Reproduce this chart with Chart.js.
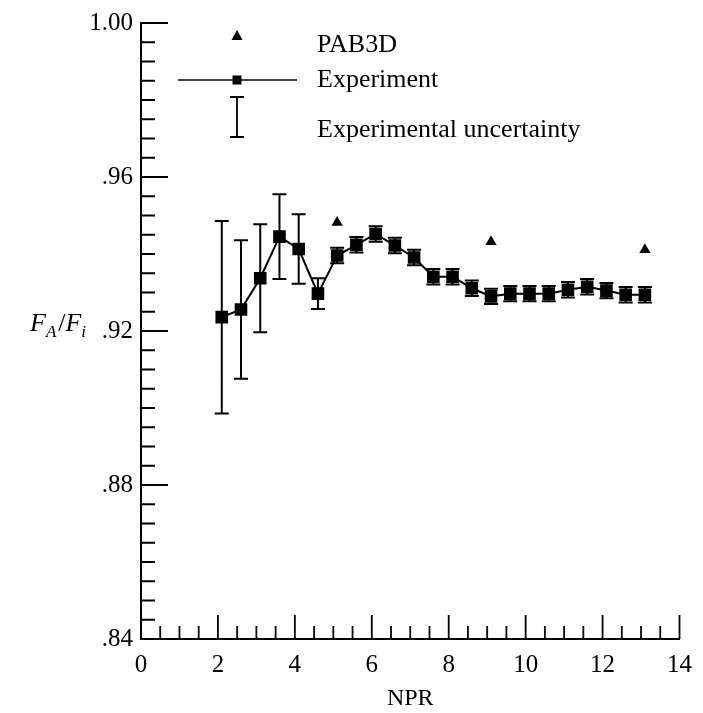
<!DOCTYPE html>
<html>
<head>
<meta charset="utf-8">
<script src="https://cdn.jsdelivr.net/npm/chart.js@4.4.0/dist/chart.umd.min.js"></script>
<style>
  html, body { margin: 0; padding: 0; background: #fff; }
</style>
</head>
<body>
<canvas id="chart" width="703" height="713"></canvas>
<script>
// values
const npr = [2.1, 2.6, 3.1, 3.6, 4.1, 4.6, 5.1, 5.6, 6.1, 6.6, 7.1, 7.6, 8.1, 8.6, 9.1, 9.6, 10.1, 10.6, 11.1, 11.6, 12.1, 12.6, 13.1];
const experiment = [.9236, .9256, .9337, .9445, .9413, .9297, .9396, .9424, .9452, .9422, .9391, .9341, .9341, .9311, .9290, .9297, .9297, .9297, .9307, .9315, .9305, .9294, .9294];
const uncertainty = [.025, .018, .014, .011, .009, .004, .002, .002, .002, .002, .002, .002, .002, .002, .002, .002, .002, .002, .002, .002, .002, .002, .002];
const pabNpr = [5.1, 9.1, 13.1];
const pab3d = [.9482, .9432, .9411];

const SERIF = "'Liberation Serif', 'Times New Roman', serif";

// error bars under the markers
const errorBars = {
  id: 'errorBars',
  beforeDatasetsDraw(chart) {
    const { ctx, scales: { x, y } } = chart;
    ctx.save();
    ctx.strokeStyle = '#000';
    ctx.lineWidth = 2;
    ctx.beginPath();
    npr.forEach((n, i) => {
      const px = x.getPixelForValue(n);
      const top = y.getPixelForValue(experiment[i] + uncertainty[i]);
      const bot = y.getPixelForValue(experiment[i] - uncertainty[i]);
      ctx.moveTo(px, top); ctx.lineTo(px, bot);
      ctx.moveTo(px - 7, top); ctx.lineTo(px + 7, top);
      ctx.moveTo(px - 7, bot); ctx.lineTo(px + 7, bot);
    });
    ctx.stroke();
    ctx.restore();
  }
};

// ticks pointing into the plot, plus legend and y title
const decorations = {
  id: 'decorations',
  afterDraw(chart) {
    const { ctx, chartArea: a, scales: { x, y } } = chart;
    ctx.save();
    ctx.strokeStyle = '#000';
    ctx.lineWidth = 1.8;
    ctx.beginPath();
    for (let k = 0; k <= 28; k++) {
      const px = x.getPixelForValue(k * 0.5);
      const len = k % 4 === 0 ? 24 : 13;
      ctx.moveTo(px, a.bottom); ctx.lineTo(px, a.bottom - len);
    }
    for (let k = 0; k <= 32; k++) {
      const py = y.getPixelForValue(0.84 + k * 0.005);
      const len = k % 8 === 0 ? 27 : 14;
      ctx.moveTo(a.left, py); ctx.lineTo(a.left + len, py);
    }
    ctx.stroke();

    // legend
    const ix = 237, tx = 317;
    ctx.fillStyle = '#000';
    ctx.beginPath();
    ctx.moveTo(ix, 30); ctx.lineTo(ix + 5.5, 40); ctx.lineTo(ix - 5.5, 40); ctx.closePath();
    ctx.fill();
    ctx.lineWidth = 1.5;
    ctx.beginPath();
    ctx.moveTo(178, 80); ctx.lineTo(297, 80);
    ctx.stroke();
    ctx.fillRect(ix - 4.5, 80 - 4.5, 9, 9);
    ctx.lineWidth = 1.8;
    ctx.beginPath();
    ctx.moveTo(ix, 97); ctx.lineTo(ix, 137);
    ctx.moveTo(ix - 7, 97); ctx.lineTo(ix + 7, 97);
    ctx.moveTo(ix - 7, 137); ctx.lineTo(ix + 7, 137);
    ctx.stroke();
    ctx.font = '26px ' + SERIF;
    ctx.textBaseline = 'alphabetic';
    ctx.textAlign = 'left';
    ctx.fillText('PAB3D', tx, 52);
    ctx.fillText('Experiment', tx, 87);
    ctx.fillText('Experimental uncertainty', tx, 137);

    // y title F_A / F_i
    let cx = 30;
    const base = 331;
    ctx.font = 'italic 26px ' + SERIF;
    ctx.fillText('F', cx, base); cx += ctx.measureText('F').width;
    ctx.font = 'italic 17px ' + SERIF;
    ctx.fillText('A', cx, base + 6); cx += ctx.measureText('A').width + 2;
    ctx.font = '26px ' + SERIF;
    ctx.fillText('/', cx, base); cx += ctx.measureText('/').width;
    ctx.font = 'italic 26px ' + SERIF;
    ctx.fillText('F', cx, base); cx += ctx.measureText('F').width;
    ctx.font = 'italic 17px ' + SERIF;
    ctx.fillText('i', cx, base + 6);
    ctx.restore();
  }
};

new Chart(document.getElementById('chart'), {
  type: 'scatter',
  data: {
    datasets: [
      {
        label: 'Experiment',
        data: npr.map((n, i) => ({ x: n, y: experiment[i] })),
        showLine: true,
        borderColor: '#000',
        borderWidth: 2,
        pointStyle: 'rect',
        pointRadius: 7.5,
        pointBackgroundColor: '#000',
        pointBorderColor: '#000',
        tension: 0
      },
      {
        label: 'PAB3D',
        data: pabNpr.map((n, i) => ({ x: n, y: pab3d[i] })),
        showLine: false,
        pointStyle: 'triangle',
        pointRadius: 6.5,
        pointBackgroundColor: '#000',
        pointBorderColor: '#000',
        pointBorderWidth: 0
      }
    ]
  },
  options: {
    responsive: false,
    animation: false,
    layout: { padding: { top: 22, right: 20, left: 0, bottom: 0 } },
    plugins: { legend: { display: false }, tooltip: { enabled: false } },
    scales: {
      x: {
        type: 'linear',
        min: 0, max: 14,
        grid: { display: false, drawTicks: false },
        border: { display: true, color: '#000', width: 2 },
        ticks: { stepSize: 2, padding: 11, color: '#000', maxRotation: 0, autoSkip: false, font: { family: SERIF, size: 25 } },
        title: { display: true, text: 'NPR', color: '#000', padding: 0, font: { family: SERIF, size: 24 } },
        afterFit(s) { s.height = 74; }
      },
      y: {
        type: 'linear',
        min: 0.84, max: 1.0,
        grid: { display: false, drawTicks: false },
        border: { display: true, color: '#000', width: 2 },
        ticks: {
          stepSize: 0.04, padding: 8, color: '#000',
          font: { family: SERIF, size: 25 },
          callback: v => v >= 0.999 ? '1.00' : v.toFixed(2).replace(/^0/, '')
        },
        afterFit(s) { s.width = 141; }
      }
    }
  },
  plugins: [errorBars, decorations]
});
</script>
</body>
</html>
